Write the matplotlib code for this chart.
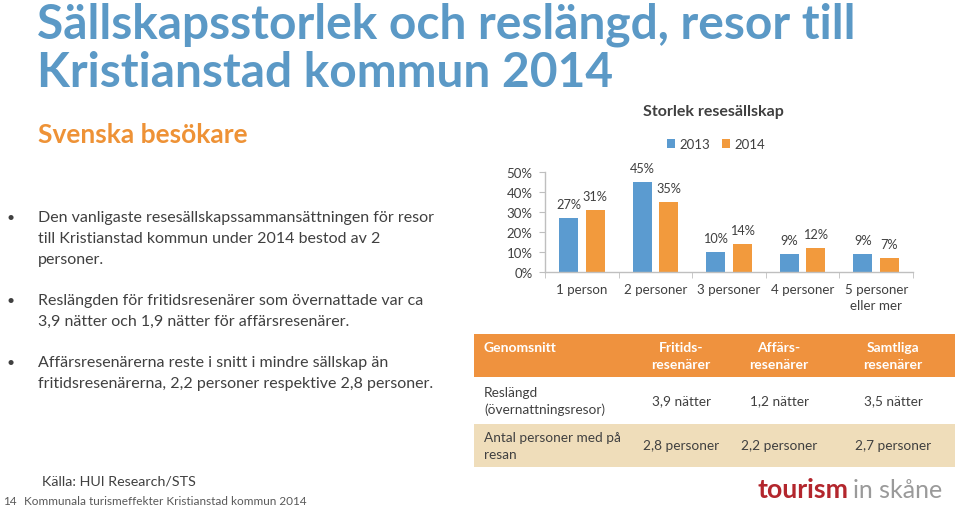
import matplotlib
matplotlib.use("Agg")
import matplotlib.pyplot as plt
from matplotlib.patches import Rectangle
import numpy as np

plt.rcParams['font.family'] = ['Lato', 'DejaVu Sans']

# ---------------- data ----------------
categories = ["1 person", "2 personer", "3 personer", "4 personer", "5 personer\neller mer"]
values_2013 = [0.27, 0.45, 0.10, 0.09, 0.09]
values_2014 = [0.31, 0.35, 0.14, 0.12, 0.07]
series_labels = ["2013", "2014"]
y_ticks = [0.0, 0.1, 0.2, 0.3, 0.4, 0.5]

table_header = ["Genomsnitt", "Fritids-\nresenärer", "Affärs-\nresenärer", "Samtliga\nresenärer"]
table_row_labels = ["Reslängd\n(övernattningsresor)", "Antal personer med på\nresan"]
table_values = [["3,9 nätter", "1,2 nätter", "3,5 nätter"],
                ["2,8 personer", "2,2 personer", "2,7 personer"]]

title_lines = ["Sällskapsstorlek och reslängd, resor till", "Kristianstad kommun 2014"]
subtitle = "Svenska besökare"
bullets = [
    ["Den vanligaste resesällskapssammansättningen för resor",
     "till Kristianstad kommun under 2014 bestod av 2",
     "personer."],
    ["Reslängden för fritidsresenärer som övernattade var ca",
     "3,9 nätter och 1,9 nätter för affärsresenärer."],
    ["Affärsresenärerna reste i snitt i mindre sällskap än",
     "fritidsresenärerna, 2,2 personer respektive 2,8 personer."],
]
chart_title = "Storlek resesällskap"
source = "Källa: HUI Research/STS"
page_no = "14"
footer = "Kommunala turismeffekter Kristianstad kommun 2014"

# ---------------- styling ----------------
W, H = 959, 506
BLUE = "#5B9BD0"
ORANGE = "#F29A3D"
TITLE_BLUE = "#5B99C6"
SUB_ORANGE = "#EE9236"
TXT = "#404040"
TABLE_ORANGE = "#EF923E"
TABLE_BEIGE = "#EFDDBA"

fig = plt.figure(figsize=(W / 100, H / 100), dpi=100)
fig.patch.set_facecolor("white")

# overlay axes in pixel coordinates
ov = fig.add_axes([0, 0, 1, 1])
ov.set_xlim(0, W)
ov.set_ylim(H, 0)
ov.axis("off")

# title
ov.text(37, 38, title_lines[0], fontsize=34.5, color=TITLE_BLUE, fontweight="bold", va="baseline")
ov.text(37, 87, title_lines[1], fontsize=34.5, color=TITLE_BLUE, fontweight="bold", va="baseline")
ov.text(38, 143, subtitle, fontsize=19, color=SUB_ORANGE, fontweight="bold", va="baseline")

# bullets
bullet_starts = [222, 305, 367]
for start, lines in zip(bullet_starts, bullets):
    ov.text(6, start, "•", fontsize=10, color=TXT, va="baseline")
    for i, ln in enumerate(lines):
        ov.text(38, start + 21 * i, ln, fontsize=11.5, color=TXT, va="baseline")

# footer
ov.text(42, 486, source, fontsize=10.3, color=TXT, va="baseline")
ov.text(3, 505, page_no, fontsize=8.5, color="#595959", va="baseline")
ov.text(24, 505, footer, fontsize=8.5, color="#595959", va="baseline")

# logo
ov.text(758, 498, "tourism", fontsize=19.3, color="#B3262D", fontweight="bold", va="baseline")
ov.text(853, 498, "in skåne", fontsize=18, color="#9A9A9A", va="baseline")

# ---------------- table ----------------
tx0, tx1 = 474, 955
row_edges = [335, 378, 425, 468]
ov.add_patch(Rectangle((tx0, row_edges[0]), tx1 - tx0, row_edges[1] - row_edges[0], color=TABLE_ORANGE, lw=0))
ov.add_patch(Rectangle((tx0, row_edges[2]), tx1 - tx0, row_edges[3] - row_edges[2], color=TABLE_BEIGE, lw=0))
col_centers = [681, 779, 893]
hy = (row_edges[0] + row_edges[1]) / 2
ov.text(484, 348, table_header[0], fontsize=10, color="white", fontweight="bold", va="center", ha="left")
for cx, h in zip(col_centers, table_header[1:]):
    ov.text(cx, hy, h, fontsize=10, color="white", fontweight="bold", va="center", ha="center",
            linespacing=1.45)
for r, (lab, vals) in enumerate(zip(table_row_labels, table_values)):
    cy = (row_edges[r + 1] + row_edges[r + 2]) / 2
    ov.text(484, cy, lab, fontsize=9.8, color=TXT, va="center", ha="left", linespacing=1.45)
    for cx, v in zip(col_centers, vals):
        ov.text(cx, cy, v, fontsize=9.8, color=TXT, va="center", ha="center")

# ---------------- bar chart ----------------
ax_left, ax_right = 545, 913
ax_bottom, ax_top = 273, 173
ax = fig.add_axes([ax_left / W, 1 - ax_bottom / H, (ax_right - ax_left) / W, (ax_bottom - ax_top) / H])
ax.patch.set_alpha(0)
x = np.arange(len(categories))
bw = 0.258
off = 0.18
b1 = ax.bar(x - off, values_2013, bw, color=BLUE, label=series_labels[0])
b2 = ax.bar(x + off, values_2014, bw, color=ORANGE, label=series_labels[1])
for bars, vals in ((b1, values_2013), (b2, values_2014)):
    for rect, v in zip(bars, vals):
        ax.annotate(f"{round(v * 100):d}%", (rect.get_x() + rect.get_width() / 2, v),
                    xytext=(0, 5.5), textcoords="offset points", ha="center", va="bottom",
                    fontsize=9.2, color=TXT)
ax.set_xlim(-0.5, len(categories) - 0.5)
ax.set_ylim(0, 0.5)
ax.set_yticks(y_ticks)
ax.set_yticklabels([f"{int(round(t * 100))}%" for t in y_ticks], fontsize=9.5, color=TXT)
ax.set_xticks(x)
ax.set_xticklabels(categories, fontsize=9.6, color=TXT, linespacing=1.35)
ax.set_xticks(np.arange(-0.5, len(categories), 1), minor=True)
ax.tick_params(axis="x", which="major", length=0, pad=8)
ax.tick_params(axis="x", which="minor", length=4, color="#BFBFBF", direction="out")
ax.tick_params(axis="y", length=4, color="#BFBFBF", pad=5)
for s in ("top", "right"):
    ax.spines[s].set_visible(False)
for s in ("left", "bottom"):
    ax.spines[s].set_color("#BFBFBF")
    ax.spines[s].set_linewidth(1)

ax.text((713 - ax_left) / (ax_right - ax_left), (ax_bottom - 112) / (ax_bottom - ax_top), chart_title,
        transform=ax.transAxes, fontsize=11.5, fontweight="bold", color=TXT, ha="center", va="center")
leg = ax.legend(loc="center", bbox_to_anchor=((716 - ax_left) / (ax_right - ax_left),
                                               (ax_bottom - 145) / (ax_bottom - ax_top)),
                ncol=2, frameon=False, fontsize=9.5, handlelength=0.6, handleheight=0.6,
                handletextpad=0.35, columnspacing=0.9)
for t in leg.get_texts():
    t.set_color(TXT)

fig.savefig("out.png", dpi=100)
